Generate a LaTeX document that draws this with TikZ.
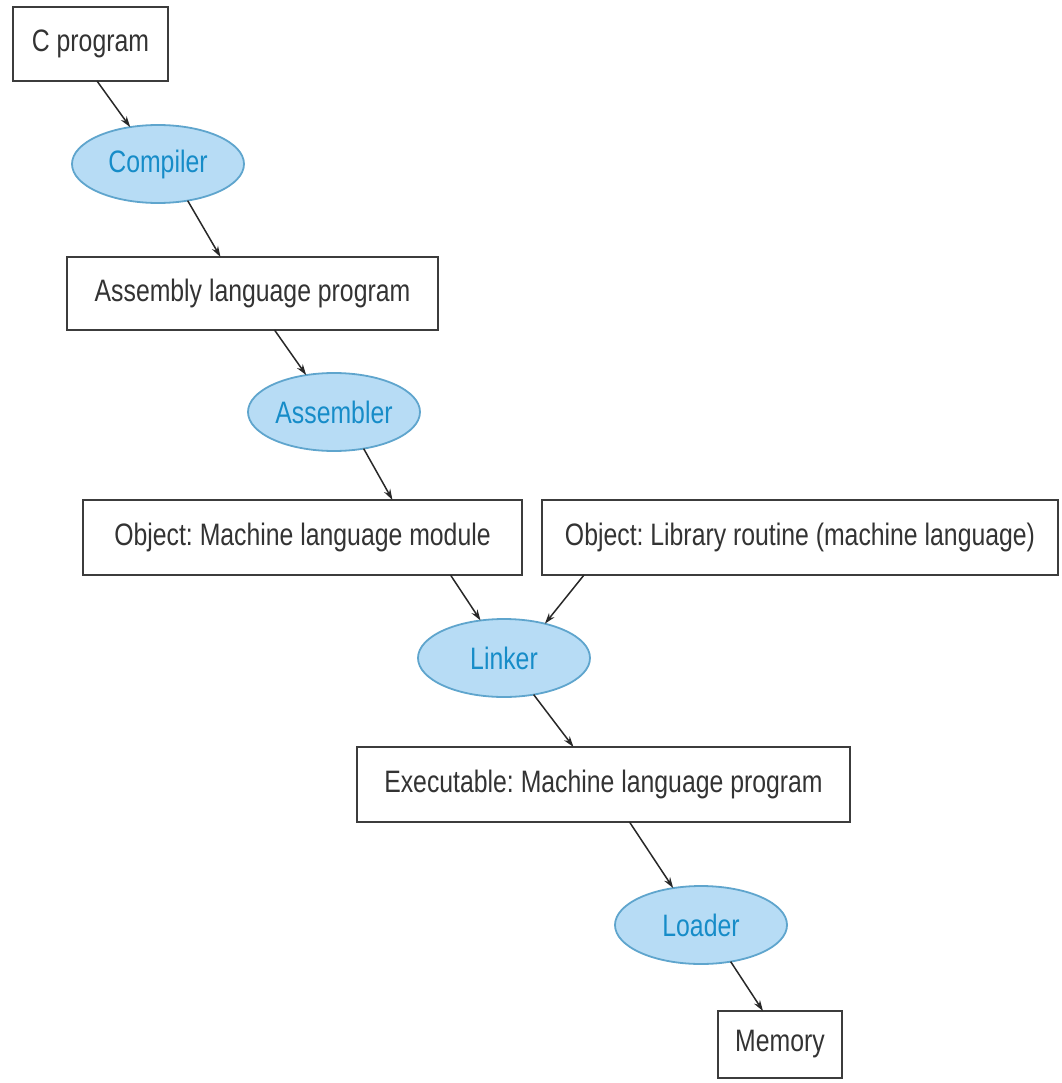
\documentclass[tikz,border=0pt]{standalone}
\usepackage{fontspec}
\setmainfont{Liberation Sans}[FakeStretch=0.8]
\usetikzlibrary{shapes.geometric,arrows.meta}
\definecolor{efill}{RGB}{183,220,245}
\definecolor{edraw}{RGB}{95,165,205}
\definecolor{etext}{RGB}{22,140,200}
\definecolor{bdraw}{RGB}{60,60,60}
\definecolor{adraw}{RGB}{40,40,40}
\frenchspacing
\begin{document}
\begin{tikzpicture}[x=1pt,y=-1pt,
  every node/.style={font=\fontsize{31}{36}\selectfont, inner sep=0pt, outer sep=0pt},
  filebox/.style={draw=bdraw, line width=2.2pt, fill=white, text=black!80},
  tool/.style={ellipse, draw=edraw, line width=1.8pt, fill=efill, text=etext,
    minimum width=172pt, minimum height=78pt},
  arr/.style={draw=adraw, line width=1.5pt, -{Stealth[length=11pt,width=7pt]}}]
\useasboundingbox (0,0) rectangle (1061,1083);
\node[filebox, minimum width=155pt, minimum height=74pt] (cprog) at (90.5,44) {C program};
\node[tool] (comp) at (158,164) {Compiler};
\node[filebox, minimum width=371pt, minimum height=73pt] (asm) at (252.5,293.5) {Assembly language program};
\node[tool] (asmb) at (334,412) {Assembler};
\node[filebox, minimum width=439pt, minimum height=75pt] (objm) at (302.5,537.5) {Object: Machine language module};
\node[filebox, minimum width=516pt, minimum height=75pt] (lib) at (800,537.5) {Object: Library routine (machine language)};
\node[tool] (link) at (504,658) {Linker};
\node[filebox, minimum width=493pt, minimum height=75pt] (exe) at (603.5,784.5) {Executable: Machine language program};
\node[tool] (load) at (701,925) {Loader};
\node[filebox, minimum width=124pt, minimum height=67pt] (mem) at (780,1044.5) {Memory};
\draw[arr] ([xshift=6.5pt]cprog.south) -- (comp.127);
\draw[arr] (comp.-51) -- ([xshift=-32pt]asm.north);
\draw[arr] ([xshift=22pt]asm.south) -- (asmb.127);
\draw[arr] (asmb.-51) -- ([xshift=90pt]objm.north);
\draw[arr] ([xshift=148pt]objm.south) -- (link.122);
\draw[arr] ([xshift=-216pt]lib.south) -- (link.40);
\draw[arr] (link.-51) -- ([xshift=-30pt]exe.north);
\draw[arr] ([xshift=26pt]exe.south) -- (load.127);
\draw[arr] (load.-51) -- ([xshift=-17pt]mem.north);
\end{tikzpicture}
\end{document}
